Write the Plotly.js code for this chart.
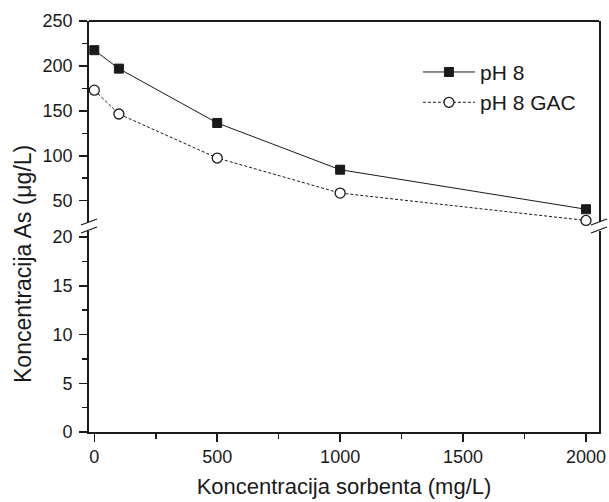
<!DOCTYPE html>
<html>
<head>
<meta charset="utf-8">
<script src="https://cdn.plot.ly/plotly-3.0.1.min.js"></script>
<style>html,body{margin:0;padding:0;background:#fff;}#chart{width:609px;height:502px;}</style>
</head>
<body>
<div id="chart"></div>
<script>
// Data
const sorbentConc = [0, 100, 500, 1000, 2000];          // mg/L
const asPH8 = [217.5, 197, 136.5, 84.5, 40.5];          // µg/L
const asPH8GAC = [173, 146.5, 97.5, 58.5, 28];          // µg/L
const seriesNames = ["pH 8", "pH 8 GAC"];

const FONT = "Liberation Sans, Arial, Helvetica, sans-serif";
const INK = "#1a1a1a";

// pixel geometry helpers for paper-coordinate decorations (axis breaks)
const L = 89, R = 10, T = 21, B = 70, W = 609, H = 502;
const pw = W - L - R, ph = H - T - B;
const px = x => (x - L) / pw;
const py = y => (H - B - y) / ph;

function breakMarks(cx) {
  return [
    {type: "line", xref: "paper", yref: "paper", x0: px(cx - 8), y0: py(225), x1: px(cx + 8), y1: py(219), line: {color: INK, width: 1.3}},
    {type: "line", xref: "paper", yref: "paper", x0: px(cx - 8), y0: py(233), x1: px(cx + 8), y1: py(227), line: {color: INK, width: 1.3}}
  ];
}

const traces = [
  {
    x: [], y: [], xaxis: "x", yaxis: "y", type: "scatter", mode: "markers",
    showlegend: false, hoverinfo: "skip"
  },
  {
    x: sorbentConc, y: asPH8, name: seriesNames[0], xaxis: "x", yaxis: "y2",
    type: "scatter", mode: "lines+markers", cliponaxis: false,
    line: {color: INK, width: 1},
    marker: {symbol: "square", size: 9, color: INK, line: {color: INK, width: 1}}
  },
  {
    x: sorbentConc, y: asPH8GAC, name: seriesNames[1], xaxis: "x", yaxis: "y2",
    type: "scatter", mode: "lines+markers", cliponaxis: false,
    line: {color: INK, width: 1, dash: "3px,2px"},
    marker: {symbol: "circle", size: 10, color: "#ffffff", line: {color: INK, width: 1.3}}
  }
];

const axisCommon = {
  showgrid: false, zeroline: false, showline: true, linecolor: INK, linewidth: 1.8,
  ticks: "outside", ticklen: 8, tickwidth: 1.5, tickcolor: INK,
  tickfont: {family: FONT, size: 18, color: INK}
};

const layout = {
  width: W, height: H,
  margin: {l: L, r: R, t: T, b: B, pad: 0},
  paper_bgcolor: "#ffffff", plot_bgcolor: "#ffffff",
  font: {family: FONT, color: INK},
  showlegend: true,
  legend: {
    x: 0.645, y: 0.925, xanchor: "left", yanchor: "top",
    bgcolor: "rgba(0,0,0,0)", borderwidth: 0,
    font: {family: FONT, size: 21, color: INK},
    itemwidth: 52, tracegroupgap: 0
  },
  xaxis: Object.assign({}, axisCommon, {
    anchor: "y", domain: [0, 1], range: [-21.6, 2053],
    tickmode: "linear", tick0: 0, dtick: 500,
    minor: {dtick: 250, ticks: "outside", ticklen: 5, tickwidth: 1.5, tickcolor: INK, showgrid: false},
    title: {text: "Koncentracija sorbenta (mg/L)", font: {family: FONT, size: 22, color: INK}, standoff: 12}
  }),
  yaxis: Object.assign({}, axisCommon, {
    anchor: "x", domain: [0, py(231)], range: [0, (432 - 231) / 9.75],
    tickmode: "linear", tick0: 0, dtick: 5, mirror: true, ticklabelstandoff: 3,
    minor: {dtick: 2.5, ticks: "outside", ticklen: 5, tickwidth: 1.5, tickcolor: INK, showgrid: false}
  }),
  yaxis2: Object.assign({}, axisCommon, {
    anchor: "x", domain: [py(222), 1], range: [26.3, 250],
    tickmode: "linear", tick0: 0, dtick: 50, mirror: true, ticklabelstandoff: 3,
    minor: {dtick: 25, ticks: "outside", ticklen: 5, tickwidth: 1.5, tickcolor: INK, showgrid: false}
  }),
  shapes: [
    {type: "line", xref: "paper", yref: "paper", x0: 0, x1: 1, y0: 1, y1: 1, line: {color: INK, width: 1.8}}
  ].concat(breakMarks(89), breakMarks(599)),
  annotations: [
    {
      text: "Koncentracija As (\u03bcg/L)", xref: "paper", yref: "paper",
      x: px(23), y: py(264), xanchor: "center", yanchor: "middle",
      textangle: -90, showarrow: false,
      font: {family: FONT, size: 23, color: INK}
    }
  ]
};

Plotly.newPlot("chart", traces, layout, {displayModeBar: false, staticPlot: true});
</script>
</body>
</html>
